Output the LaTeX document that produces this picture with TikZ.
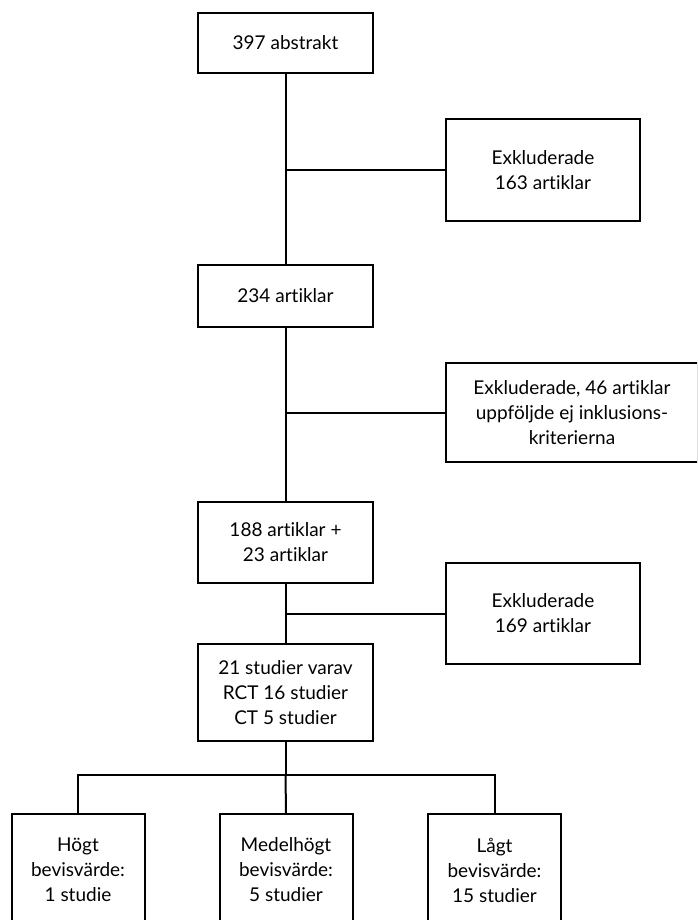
\documentclass[tikz,border=0pt]{standalone}
\usepackage{fontspec}
\setmainfont{Lato}[RawFeature=-liga]
\begin{document}
\begin{tikzpicture}[
 x=1pt,y=-1pt,
 line/.style={line width=2pt},
 box/.style={draw,line width=2pt,align=center,inner sep=0pt},
 every node/.style={font=\fontsize{19}{25}\selectfont}]
 \useasboundingbox (0,0) rectangle (697,920);
 \clip (0,0) rectangle (697,920);
 % main column
 \node[box,minimum width=175,minimum height=60] (abs) at (285.5,43) {397 abstrakt};
 \node[box,minimum width=175,minimum height=62] (a234) at (285.5,296) {234 artiklar};
 \node[box,minimum width=175,minimum height=81] (a188) at (285.5,542.5) {188 artiklar +\\23 artiklar};
 \node[box,minimum width=175,minimum height=97] (stud) at (285.5,692.5) {21 studier varav\\RCT 16 studier\\CT 5 studier};
 % excluded
 \node[box,minimum width=194,minimum height=102] (ex1) at (543,170) {Exkluderade\\163 artiklar};
 \node[box,minimum width=252,minimum height=99] (ex2) at (572,412.5) {Exkluderade, 46 artiklar\\uppföljde ej inklusions-\\kriterierna};
 \node[box,minimum width=194,minimum height=101] (ex3) at (543,613.5) {Exkluderade\\169 artiklar};
 % evidence levels
 \foreach \nm/\cx/\txt in {hog/78/{Högt\\bevisvärde:\\1 studie},med/286/{Medelhögt\\bevisvärde:\\5 studier},lag/494.5/{Lågt\\bevisvärde:\\15 studier}}
  \node[box,minimum width=133,minimum height=112] (\nm) at (\cx,870) {\txt};
 \coordinate (bus) at (285.5,775);
 \draw[line] (abs.south) -- (a234.north);
 \draw[line] (a234.south) -- (a188.north);
 \draw[line] (a188.south) -- (stud.north);
 \draw[line] (ex1.west -| abs.south) -- (ex1.west);
 \draw[line] (ex2.west -| a234.south) -- (ex2.west);
 \draw[line] (ex3.west -| a188.south) -- (ex3.west);
 \draw[line] (stud.south) -- (bus);
 \draw[line] (hog.north) |- (bus) -| (lag.north);
 \draw[line] (bus) -- (med.north);
\end{tikzpicture}
\end{document}
